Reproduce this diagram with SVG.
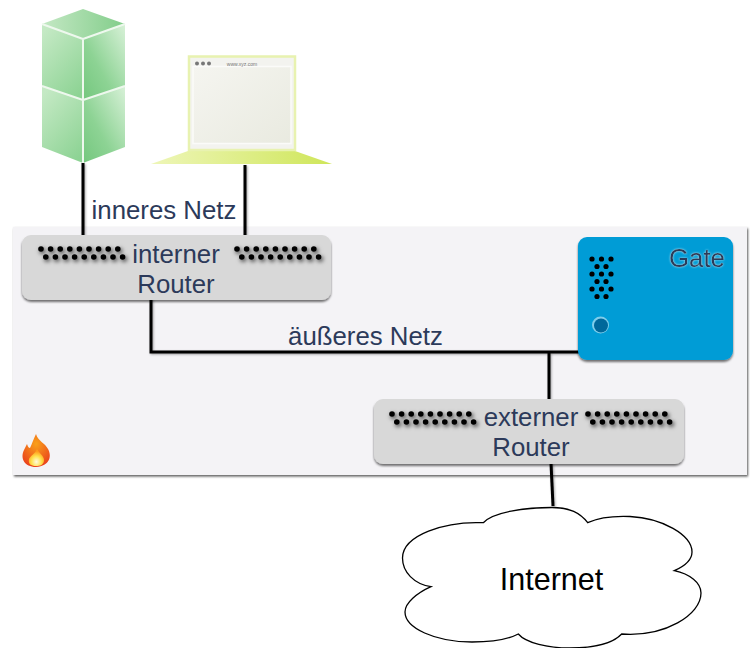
<svg xmlns="http://www.w3.org/2000/svg" xmlns:xlink="http://www.w3.org/1999/xlink" width="753" height="648" viewBox="0 0 753 648">
<style>
text{font-family:"Liberation Sans",Arial,sans-serif;font-size:25.800px;fill:#2c3a5a;text-anchor:middle}
.w{fill:none;stroke:#000;stroke-width:3;stroke-linejoin:miter}
.e{stroke:#eef8ee;stroke-width:2;stroke-linejoin:round}
.r{fill:#d8d8d8}
</style>
<defs>
<filter id="sh" x="-5%" y="-10%" width="110%" height="120%"><feDropShadow dx="0" dy="2" stdDeviation="1.200" flood-color="#000" flood-opacity=".55"/></filter>
<filter id="ps" x="-5%" y="-5%" width="110%" height="110%"><feDropShadow dx="1" dy="1.500" stdDeviation=".8" flood-color="#000" flood-opacity=".65"/></filter>
<filter id="ds" x="-10%" y="-50%" width="120%" height="220%"><feDropShadow dx="1.500" dy="2" stdDeviation="2" flood-color="#000" flood-opacity=".75"/></filter>
<filter id="ls" x="-200%" y="-5%" width="500%" height="110%"><feDropShadow dx="1" dy="1" stdDeviation="1" flood-color="#000" flood-opacity=".35"/></filter>
<filter id="ts" x="-10%" y="-20%" width="120%" height="140%"><feDropShadow dx="0" dy="0" stdDeviation="1" flood-color="#fff" flood-opacity=".7"/></filter>
<linearGradient id="gL" x1="0.200" y1="0" x2="0.800" y2="1"><stop offset="0" stop-color="#c4e9c4"/><stop offset="1" stop-color="#8dd394"/></linearGradient>
<linearGradient id="gR" x1="1" y1="0" x2="0" y2="1"><stop offset="0" stop-color="#d8f1d8"/><stop offset=".6" stop-color="#8dd394"/><stop offset="1" stop-color="#74c77e"/></linearGradient>
<linearGradient id="gT" x1="0" y1="0" x2="1" y2="0"><stop offset="0" stop-color="#c4e8c4"/><stop offset="1" stop-color="#82cd8a"/></linearGradient>
<linearGradient id="gS" x1="0" y1="0" x2="1" y2="1"><stop offset="0" stop-color="#f5f5f0"/><stop offset="1" stop-color="#e9eae0"/></linearGradient>
<linearGradient id="gB" x1="0" y1="0" x2="1" y2="0"><stop offset="0" stop-color="#eef6b8"/><stop offset="1" stop-color="#cfe65a"/></linearGradient>
<radialGradient id="fo" cx=".5" cy=".3" r=".8"><stop offset="0" stop-color="#f9a11b"/><stop offset="1" stop-color="#e8361c"/></radialGradient>
<radialGradient id="fi" cx=".5" cy=".75" r=".6"><stop offset="0" stop-color="#fffbe0"/><stop offset=".55" stop-color="#ffe14d"/><stop offset="1" stop-color="#ff9d1c"/></radialGradient>
<g id="dots9" filter="url(#ds)">
<circle cx="0" cy="0" r="2.800"/><circle cx="9.600" cy="0" r="2.800"/><circle cx="19.200" cy="0" r="2.800"/><circle cx="28.800" cy="0" r="2.800"/><circle cx="38.400" cy="0" r="2.800"/><circle cx="48" cy="0" r="2.800"/><circle cx="57.600" cy="0" r="2.800"/><circle cx="67.200" cy="0" r="2.800"/><circle cx="76.800" cy="0" r="2.800"/>
<circle cx="4.800" cy="8" r="2.800"/><circle cx="14.400" cy="8" r="2.800"/><circle cx="24" cy="8" r="2.800"/><circle cx="33.600" cy="8" r="2.800"/><circle cx="43.200" cy="8" r="2.800"/><circle cx="52.800" cy="8" r="2.800"/><circle cx="62.400" cy="8" r="2.800"/><circle cx="72" cy="8" r="2.800"/><circle cx="81.600" cy="8" r="2.800"/>
</g>
</defs>

<g id="firewall">
<rect x="13" y="227" width="734" height="248" fill="#f4f3f6" filter="url(#ps)"/>
<g id="flame">
<path d="M36 434C38 441 45 443 48 449C52 456 50 466 36 467C24 467 20 458 24 450C25 448 26 446 27 444C28 447 29 448 30 448C32 444 33 440 36 434Z" fill="url(#fo)"/>
<path d="M37 449C39 453 44 456 44 460C44 465 40 466 36 466C31 466 28 464 29 459C30 456 35 454 37 449Z" fill="url(#fi)"/>
</g>
</g>

<g id="connectors" filter="url(#ls)">
<path class="w" d="M83 163V236"/>
<path class="w" d="M245 165V236"/>
<path class="w" d="M151 298V352H579"/>
<path class="w" d="M549 352V401"/>
<path class="w" d="M551 463L553 506"/>
</g>

<g id="server">
<path d="M83 9L125 24L83 39L42 24Z" fill="url(#gT)"/>
<path d="M42 24L83 39V100L42 86Z" fill="url(#gL)"/>
<path d="M125 24L83 39V100L125 86Z" fill="url(#gR)"/>
<path d="M42 86L83 100V163L42 147Z" fill="url(#gL)"/>
<path d="M125 86L83 100V163L125 147Z" fill="url(#gR)"/>
<path class="e" fill="none" d="M42 24L83 39L125 24M83 39V163M42 86L83 100L125 86"/>
</g>

<g id="client">
<path d="M188 151H295L332 164H151Z" fill="url(#gB)"/>
<rect x="189" y="56.500" width="106" height="93.500" fill="#f3f3ef" stroke="#e8f2b0" stroke-width="2.500"/>
<rect x="193" y="66.500" width="98" height="77" fill="url(#gS)" stroke="#fbfbf9" stroke-width="1.500"/>
<circle cx="197" cy="63.500" r="2" fill="#777"/><circle cx="203" cy="63.500" r="2" fill="#777"/><circle cx="209" cy="63.500" r="2" fill="#777"/>
<text x="242" y="65.500" style="font-size:5px;fill:#777">www.xyz.com</text>
</g>

<text x="164" y="219">inneres Netz</text>
<text x="365.500" y="345">äußeres Netz</text>

<g id="router-intern">
<rect class="r" x="22" y="235" width="309" height="65" rx="9" filter="url(#sh)"/>
<use href="#dots9" x="41" y="249"/>
<use href="#dots9" x="237" y="249"/>
<text x="176" y="263">interner</text>
<text x="176" y="293">Router</text>
</g>

<g id="router-extern">
<rect class="r" x="374" y="399" width="310" height="65" rx="9" filter="url(#sh)"/>
<use href="#dots9" x="392" y="414"/>
<use href="#dots9" x="588" y="414"/>
<text x="531" y="426">externer</text>
<text x="531" y="456">Router</text>
</g>

<g id="gate">
<rect x="578" y="237" width="155" height="123" rx="9" fill="#009cd6" filter="url(#sh)"/>
<g fill="#000">
<circle cx="592" cy="259" r="2.600"/><circle cx="601.500" cy="259" r="2.600"/><circle cx="611" cy="259" r="2.600"/>
<circle cx="597" cy="266.500" r="2.600"/><circle cx="606" cy="266.500" r="2.600"/>
<circle cx="592" cy="274" r="2.600"/><circle cx="601.500" cy="274" r="2.600"/><circle cx="611" cy="274" r="2.600"/>
<circle cx="597" cy="281.500" r="2.600"/><circle cx="606" cy="281.500" r="2.600"/>
<circle cx="592" cy="289" r="2.600"/><circle cx="601.500" cy="289" r="2.600"/><circle cx="611" cy="289" r="2.600"/>
<circle cx="597" cy="296.500" r="2.600"/><circle cx="606" cy="296.500" r="2.600"/>
</g>
<circle cx="600.500" cy="325" r="8.500" fill="#7fcdea"/>
<circle cx="601" cy="325.500" r="7" fill="#00689b"/>
<text x="697" y="267" filter="url(#ts)">Gate</text>
</g>

<g id="internet">
<path d="M483.300 522.700C493 512 525 507.500 552 507.500C570 507.500 580 513 587.700 522.700C600 517 618 516 630 516.500C662 518 692 535 692 552C692 560 685 566 674.300 570.700C690 574 701 583 701 593C701 615 665 637 621.700 634C612 644 592 648 570 648C548 648 526 643 518.300 634C505 641 485 642 472 642C435 642 405 628 405 612C405 603 417 593 431 586.700C414 584 402.500 572 402.500 558C402.500 535 445 521 483.300 522.700Z" fill="#fff" stroke="#000" stroke-width="1.300"/>
<text x="551.500" y="590" style="fill:#000;font-size:30.500px">Internet</text>
</g>
</svg>
